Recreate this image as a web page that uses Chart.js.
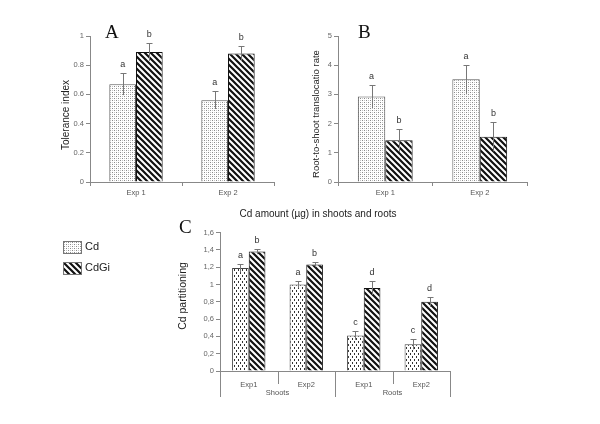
<!DOCTYPE html>
<html>
<head>
<meta charset="utf-8">
<script src="https://cdn.jsdelivr.net/npm/chart.js@4.4.0/dist/chart.umd.min.js"></script>
<style>
  body { margin: 0; background: #fff; width: 600px; height: 424px; position: relative; overflow: hidden;
         font-family: "Liberation Sans", Arial, sans-serif; }
  canvas.panel { position: absolute; }
  .big { position: absolute; font-family: "Liberation Serif", "Times New Roman", serif; font-size: 19px; color: #111; line-height: 1; }
  .leg { position: absolute; left: 63px; font-size: 11px; color: #222; line-height: 11px; }
  .leg canvas { vertical-align: top; margin-right: 3px; border: 1px solid #777; box-sizing: border-box; }
</style>
</head>
<body>
<canvas id="chartA" class="panel" style="left:40px;top:20px;width:245px;height:185px" width="245" height="185"></canvas>
<canvas id="chartB" class="panel" style="left:290px;top:20px;width:245px;height:185px" width="245" height="185"></canvas>
<canvas id="chartC" class="panel" style="left:140px;top:200px;width:356px;height:201px" width="356" height="201"></canvas>
<div class="big" style="left:105px;top:22px">A</div>
<div class="big" style="left:358px;top:22px">B</div>
<div class="big" style="left:179px;top:217px">C</div>
<div class="leg" style="top:241px"><canvas id="legCd" width="17" height="11"></canvas>Cd</div>
<div class="leg" style="top:262px"><canvas id="legCdGi" width="17" height="11"></canvas>CdGi</div>
<script>
// A: tolerance index
const expLabels = ['Exp 1', 'Exp 2'];
const tolCd = [0.67, 0.56];
const tolCdErr = [0.075, 0.06];
const tolCdGi = [0.89, 0.88];
const tolCdGiErr = [0.06, 0.05];
const tolCdLetters = ['a', 'a'];
const tolCdGiLetters = ['b', 'b'];

// B: root-to-shoot translocation
const transCd = [2.93, 3.52];
const transCdErr = [0.4, 0.5];
const transCdGi = [1.43, 1.55];
const transCdGiErr = [0.4, 0.5];
const transCdLetters = ['a', 'a'];
const transCdGiLetters = ['b', 'b'];

// C: Cd partitioning
const partExp = ['Exp1', 'Exp2', 'Exp1', 'Exp2'];
const partGroups = ['Shoots', 'Roots'];
const partCd = [1.19, 1.00, 0.41, 0.31];
const partCdErr = [0.05, 0.04, 0.05, 0.06];
const partCdGi = [1.38, 1.23, 0.96, 0.80];
const partCdGiErr = [0.03, 0.03, 0.08, 0.06];
const partCdLetters = ['a', 'a', 'c', 'c'];
const partCdGiLetters = ['b', 'b', 'd', 'd'];
const partTicks = ['0', '0,2', '0,4', '0,6', '0,8', '1', '1,2', '1,4', '1,6'];

// --- patterns
function tile(w, h, draw) {
    const c = document.createElement('canvas');
    c.width = w; c.height = h;
    const g = c.getContext('2d');
    g.fillStyle = '#fff';
    g.fillRect(0, 0, w, h);
    draw(g);
    return c;
}
const dotTile = tile(4, 4, g => {
    g.fillStyle = '#8a8a8a';
    g.fillRect(0, 0, 1, 1); g.fillRect(2, 2, 1, 1);
    g.fillStyle = '#c4c4c4';
    g.fillRect(2, 0, 1, 1); g.fillRect(0, 2, 1, 1);
});
const dashTile = tile(4, 6, g => {
    g.fillStyle = '#333';
    g.fillRect(0, 0, 1, 2); g.fillRect(2, 3, 1, 2);
});
const stripeTile = tile(6, 6, g => {
    g.strokeStyle = '#111'; g.lineWidth = 2.2;
    g.beginPath();
    g.moveTo(-1, -1); g.lineTo(7, 7);
    g.moveTo(5, -1); g.lineTo(7, 1);
    g.moveTo(-1, 5); g.lineTo(1, 7);
    g.stroke();
});
const pctx = document.createElement('canvas').getContext('2d');
const dotPat = pctx.createPattern(dotTile, 'repeat');
const dashPat = pctx.createPattern(dashTile, 'repeat');
const stripePat = pctx.createPattern(stripeTile, 'repeat');

function fillLegend(id, t) {
    const g = document.getElementById(id).getContext('2d');
    g.fillStyle = g.createPattern(t, 'repeat');
    g.fillRect(0, 0, 17, 11);
}
fillLegend('legCd', dotTile);
fillLegend('legCdGi', stripeTile);

// --- error bars + letters
const errorBars = {
    id: 'errorBars',
    afterDatasetsDraw(chart) {
        const ctx = chart.ctx, y = chart.scales.y;
        chart.data.datasets.forEach((ds, di) => {
            chart.getDatasetMeta(di).data.forEach((bar, i) => {
                const v = ds.data[i], e = ds.errors[i];
                const top = Math.round(y.getPixelForValue(v + e)) + 0.5;
                const bot = y.getPixelForValue(v - e);
                const x = Math.round(bar.x) + 0.5;
                ctx.save();
                ctx.strokeStyle = '#777';
                ctx.lineWidth = 1;
                ctx.beginPath();
                ctx.moveTo(x, bot); ctx.lineTo(x, top);
                ctx.moveTo(x - 3, top); ctx.lineTo(x + 3, top);
                ctx.stroke();
                ctx.fillStyle = '#333';
                ctx.font = '9px "Liberation Sans", Arial';
                ctx.textAlign = 'center';
                ctx.textBaseline = 'bottom';
                ctx.fillText(ds.letters[i], bar.x, top - 4);
                ctx.restore();
            });
        });
    }
};

// --- rotated y titles placed by hand
const yTitle = {
    id: 'yTitle',
    afterDraw(chart) {
        const t = chart.options.yTitle;
        const ctx = chart.ctx;
        ctx.save();
        ctx.translate(t.x, t.y);
        ctx.rotate(-Math.PI / 2);
        ctx.fillStyle = '#222';
        ctx.font = t.size + 'px "Liberation Sans", Arial';
        ctx.textAlign = 'center';
        ctx.textBaseline = 'middle';
        ctx.fillText(t.text, 0, 0);
        ctx.restore();
    }
};

// --- two-level x axis for C
const groupAxis = {
    id: 'groupAxis',
    afterDraw(chart) {
        if (!chart.options.groupAxis) return;
        const ctx = chart.ctx, x = chart.scales.x, area = chart.chartArea;
        const mid = i => (x.getPixelForTick(i) + x.getPixelForTick(i + 1)) / 2;
        ctx.save();
        ctx.strokeStyle = '#888';
        ctx.lineWidth = 1;
        ctx.beginPath();
        [mid(0), mid(2)].forEach(px => {
            px = Math.round(px) + 0.5;
            ctx.moveTo(px, area.bottom); ctx.lineTo(px, area.bottom + 13);
        });
        [x.left, mid(1), x.right].forEach(px => {
            px = Math.round(px) + 0.5;
            ctx.moveTo(px, area.bottom); ctx.lineTo(px, area.bottom + 26);
        });
        ctx.stroke();
        ctx.fillStyle = '#555';
        ctx.font = '7.5px "Liberation Sans", Arial';
        ctx.textAlign = 'center';
        ctx.textBaseline = 'middle';
        ctx.fillText(partGroups[0], (x.left + mid(1)) / 2, area.bottom + 22);
        ctx.fillText(partGroups[1], (mid(1) + x.right) / 2, area.bottom + 22);
        ctx.restore();
    }
};

function makeChart(id, labels, sets, cfg) {
    return new Chart(document.getElementById(id), {
        type: 'bar',
        data: {
            labels,
            datasets: sets.map(s => ({
                data: s.data, errors: s.errors, letters: s.letters,
                backgroundColor: s.pattern,
                borderColor: s.border, borderWidth: 1,
                categoryPercentage: 0.58, barPercentage: 1
            }))
        },
        options: {
            responsive: false,
            animation: false,
            groupAxis: cfg.groupAxis,
            yTitle: cfg.yTitle,
            layout: { padding: cfg.padding },
            plugins: {
                legend: { display: false },
                tooltip: { enabled: false },
                title: cfg.title || { display: false }
            },
            scales: {
                x: {
                    grid: { display: !cfg.groupAxis, drawOnChartArea: false, color: '#888', tickLength: 4, offset: true },
                    border: { color: '#888' },
                    ticks: { color: '#555', font: { size: 7.5 }, padding: cfg.groupAxis ? 5 : 2 },
                    afterFit: s => { s.height = cfg.xHeight; }
                },
                y: {
                    min: 0, max: cfg.max,
                    grid: { drawOnChartArea: false, color: '#888', tickLength: 4 },
                    border: { color: '#888' },
                    ticks: { stepSize: cfg.step, color: '#666', font: { size: 7.5 }, padding: 2, callback: cfg.tickCb },
                    afterFit: s => { s.width = cfg.yWidth; }
                }
            }
        },
        plugins: [errorBars, groupAxis, yTitle]
    });
}

makeChart('chartA', expLabels, [
    { data: tolCd, errors: tolCdErr, letters: tolCdLetters, pattern: dotPat, border: '#555' },
    { data: tolCdGi, errors: tolCdGiErr, letters: tolCdGiLetters, pattern: stripePat, border: '#111' }
], { padding: { top: 16, right: 11, left: 0, bottom: 0 }, xHeight: 23, yWidth: 50, max: 1, step: 0.2,
     yTitle: { text: 'Tolerance index', x: 26, y: 95, size: 10 } });

makeChart('chartB', expLabels, [
    { data: transCd, errors: transCdErr, letters: transCdLetters, pattern: dotPat, border: '#555' },
    { data: transCdGi, errors: transCdGiErr, letters: transCdGiLetters, pattern: stripePat, border: '#111' }
], { padding: { top: 16, right: 8, left: 0, bottom: 0 }, xHeight: 23, yWidth: 48, max: 5, step: 1,
     yTitle: { text: 'Root-to-shoot translocatio rate', x: 26, y: 94, size: 9.5 } });

makeChart('chartC', partExp, [
    { data: partCd, errors: partCdErr, letters: partCdLetters, pattern: dashPat, border: '#444' },
    { data: partCdGi, errors: partCdGiErr, letters: partCdGiLetters, pattern: stripePat, border: '#111' }
], { padding: { top: 0, right: 46, left: 46, bottom: 0 }, xHeight: 30, yWidth: 34, max: 1.6, step: 0.2,
     yTitle: { text: 'Cd partitioning', x: 43, y: 96, size: 10.5 }, groupAxis: true,
     tickCb: (v, i) => partTicks[i],
     title: { display: true, text: 'Cd amount (µg) in shoots and roots', color: '#222',
              font: { size: 10, weight: 'normal' }, padding: { top: 8, bottom: 12.5 } } });
</script>
</body>
</html>
